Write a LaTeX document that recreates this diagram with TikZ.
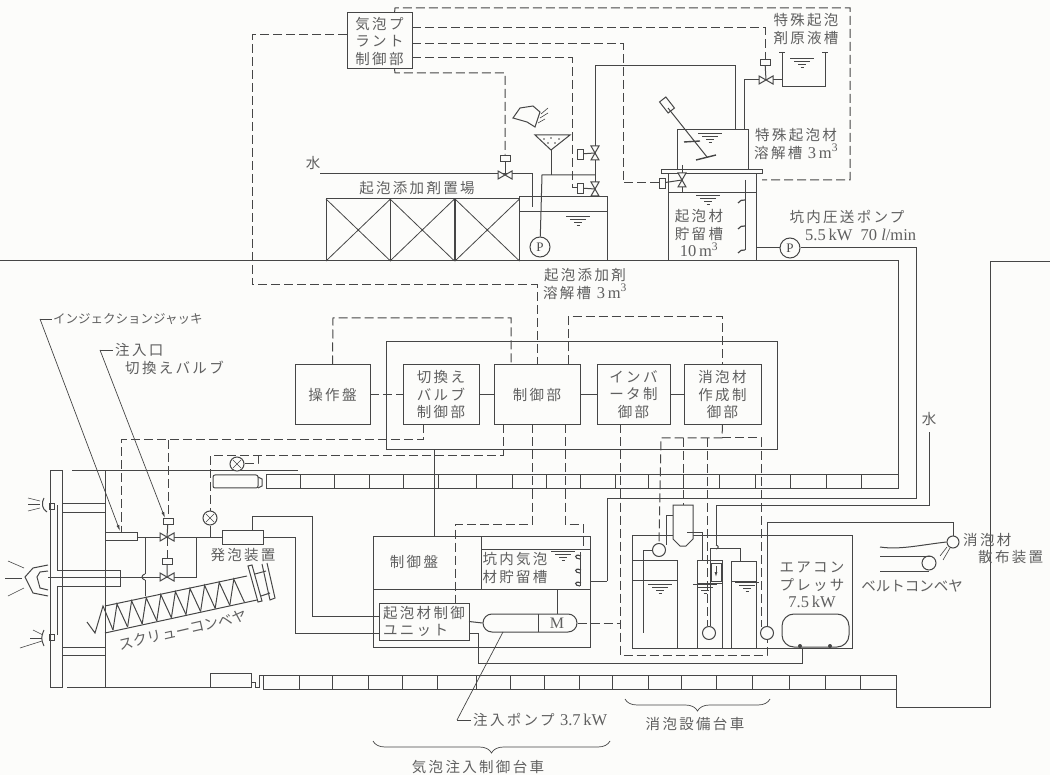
\documentclass[tikz,border=0pt]{standalone}
\usepackage{fontspec}
\setmainfont{Liberation Serif}
\newfontfamily\jpfont[LetterSpace=16]{Noto Sans CJK JP}
\newfontfamily\jpsmall{Noto Sans CJK JP}
\usetikzlibrary{positioning, arrows.meta, calc, decorations.pathreplacing}
\definecolor{paper}{RGB}{252,252,250}
\definecolor{ink}{RGB}{70,70,70}
\definecolor{inkgray}{RGB}{95,95,95}
\newcommand{\lat}[1]{{\rmfamily\fontsize{16.5}{17.5}\selectfont #1}}
\tikzset{
  lbl/.style={font=\jpfont\fontsize{14.5}{17.5}\selectfont, text=inkgray, align=center, inner sep=0pt},
  ctrlbox/.style={rectangle, draw=ink, line width=1pt, minimum height=60pt, outer sep=0pt, lbl},
  pipe/.style={draw=ink, line width=1pt},
  sig/.style={draw=ink, line width=1pt, dash pattern=on 9pt off 4pt},
  lead/.style={draw=ink, line width=.7pt, -{Latex[length=6pt,width=3pt]}},
  act/.style={rectangle, draw=ink, line width=.8pt, fill=paper, minimum width=10pt, minimum height=6pt, inner sep=0pt},
  actv/.style={act, minimum width=6pt, minimum height=10pt},
  gauge/.style={circle, draw=ink, line width=1pt, fill=paper, minimum size=14pt, inner sep=0pt},
  pumpc/.style={gauge, minimum size=20pt, font=\fontsize{13}{13}\selectfont, text=ink},
  brc/.style={draw=ink, line width=.7pt, decorate, decoration={brace, amplitude=12pt}},
  valveh/.pic={\draw[pipe, fill=paper] (-7,-4) -- (7,4) -- (7,-4) -- (-7,4) -- cycle;},
  valvev/.pic={\draw[pipe, fill=paper] (-4,-7) -- (4,7) -- (-4,7) -- (4,-7) -- cycle;},
  wlev/.pic={\draw[ink, line width=.7pt] (-12,0) -- (12,0) (-8,3) -- (8,3) (-4,6) -- (4,6) (-1.5,9) -- (1.5,9);},
}

\begin{document}
\begin{tikzpicture}[x=1pt, y=-1pt]
  \fill[paper] (0,0) rectangle (1050,775);
  \useasboundingbox (0,0) rectangle (1050,775);

  % above ground
  \draw[pipe] (0,261) -- (898,261) -- (898,489);
  \draw[pipe] (1050,262) -- (990,262) -- (990,707) -- (896,707) -- (896,677);
  \foreach \rx in {326,390,455} {
    \draw[pipe] (\rx,199) rectangle ++(64.5,62);
    \draw[ink, line width=.8pt] (\rx,199) -- ++(64.5,62) (\rx,261) -- ++(64.5,-62);
  }
  \node[lbl] (rack) at (417,188) {起泡添加剤置場};
  \node[lbl] (water) at (313,163) {水};

  % dissolving tank and hopper
  \draw[pipe] (519,261) -- (519,197) -- (607,197) -- (607,261);
  \draw[pipe] (519,212) -- (607,212);
  \pic at (578,216) {wlev};
  \node[pumpc] (padd) at (540,247) {P};
  \draw[pipe] (535,135) -- (570,135) -- (551,150) -- cycle;
  \foreach \dx/\dy in {544/139,551/138,559/139,548/143,555/143} \fill[ink] (\dx,\dy) circle (.9pt);
  \draw[pipe] (551,150) -- (551,175);
  \draw[pipe] (513,118) -- (520,108) -- (533,106) -- (540,112) -- (535,127) -- (527,122) -- cycle;
  \draw[ink, line width=.6pt] (538,123) -- (545,119) (540,118) -- (548,113) (541,114) -- (548,108);
  \draw[pipe] (padd) -- (542,175) -- (595,175);
  \coordinate (vwat) at (505,175);
  \draw[pipe] (320,174) -- (532,174) -- (532,207);
  \pic at (vwat) {valveh};
  \node[act] (awat) at (505,158) {};
  \draw[pipe] (awat) -- (vwat);

  % pipe up to the special tank
  \coordinate (vup) at (595,153);
  \coordinate (vlow) at (595,189);
  \draw[pipe] (595,197) -- (595,66) -- (735,66) -- (735,130);
  \pic at (vup) {valvev};
  \pic at (vlow) {valvev};
  \node[actv] (aup) at (580,154) {};
  \node[actv] (alow) at (580,188) {};
  \draw[pipe] (aup) -- (vup) (alow) -- (vlow);

  % special foam tanks
  \node[lbl] (stocktxt) at (806,29) {特殊起泡\\剤原液槽};
  \draw[pipe] (782,52) -- (782,87) -- (825,87) -- (825,52);
  \draw[pipe] (779,53) -- (785,53) (822,53) -- (828,53);
  \pic at (802,58) {wlev};
  \coordinate (vstk) at (766,80);
  \draw[pipe] (782,80) -- (744,80) -- (744,130);
  \pic at (vstk) {valveh};
  \node[act] (astk) at (765,62) {};
  \draw[pipe] (astk) -- (vstk);
  \draw[pipe] (677,170) -- (677,130) -- (748,130) -- (748,170);
  \pic at (710,133) {wlev};
  \node[lbl, anchor=west] (dissolve) at (754,144) {特殊起泡材\\溶解槽 \lat{3\,m\textsuperscript{3}}};
  \draw[pipe, fill=paper, rotate around={-52:(667,105)}] (660,101) rectangle (674,109);
  \draw[pipe] (668,108) -- (707,157);
  \draw[pipe, line width=1.4pt] (684,142) -- (700,141) (696,160) -- (716,155);

  % storage tank
  \draw[pipe] (661,170) rectangle (762,174);
  \draw[pipe] (668,174) -- (668,261) (756,174) -- (756,261);
  \draw[pipe] (668,193) -- (756,193);
  \pic at (708,195) {wlev};
  \node[lbl] (store) at (699,233) {起泡材\\貯留槽\\\lat{10\,m\textsuperscript{3}}};
  \draw[ink, line width=.8pt] (745,180) -- (745,250);
  \foreach \sy in {200,226,250} \draw[ink, line width=1.2pt] (745,\sy) .. controls (742,\sy-1) and (740,\sy+1) .. (738,\sy+3);
  \coordinate (vsto) at (682,180);
  \draw[pipe] (682,165) -- (682,193);
  \pic at (vsto) {valvev};
  \node[actv] (asto) at (662,183) {};
  \draw[pipe] (asto) -- (vsto);
  \node[pumpc] (ppress) at (790,248) {P};
  \node[lbl] (presstxt) at (847,217) {坑内圧送ポンプ};
  \node[lbl, anchor=west, font=\fontsize{16.5}{16.5}\selectfont] (presstxt2) at (805,235) {5.5\,kW\ \ 70 \textit{l}/min};
  \node[lbl] (addtxt) at (585,284) {起泡添加剤\\溶解槽 \lat{3\,m\textsuperscript{3}}};

  % control boxes
  \node[rectangle, draw=ink, line width=1pt, minimum width=391pt, minimum height=108pt] (frame) at (581.5,396) {};
  \node[ctrlbox, minimum width=75pt] (opan) at (332.5,394.5) {操作盤};
  \node[ctrlbox, minimum width=76pt, right=33pt of opan] (swv) {切換え\\バルブ\\制御部};
  \node[ctrlbox, minimum width=86pt, right=15pt of swv] (ctl) {制御部};
  \node[ctrlbox, minimum width=73pt, right=17pt of ctl] (inv) {インバ\\ータ制\\御部};
  \node[ctrlbox, minimum width=77pt, right=14pt of inv] (foam) {消泡材\\作成制\\御部};
  \node[ctrlbox, minimum width=65pt, minimum height=56pt] (plant) at (379.5,41) {気泡プ\\ラント\\制御部};
  \draw[sig] (opan) -- (swv);
  \draw[pipe] (swv) -- (ctl);
  \draw[pipe] (ctl) -- (inv);
  \draw[pipe] (inv) -- (foam);
  \draw[sig] (opan.north) -- (333,318) -- (511,318) -- (511,364.5);
  \draw[sig] (568,364.5) -- (568,317) -- (722,317) -- (722,364.5);

  % plant signals
  \draw[sig] ([yshift=6pt]plant.west) -- (252,35) -- (252,285) -- (537,285) -- (ctl.north);
  \draw[sig] ([xshift=15pt]plant.north) -- (395,8) -- (850,8) -- (850,180) -- (762,180);
  \draw[sig] ([yshift=13pt]plant.east) -- (765,28) -- (astk.north);
  \draw[sig] ([yshift=-3pt]plant.east) -- (623,44) -- (623,183) -- (asto.west);
  \draw[sig] ([yshift=-17pt]plant.east) -- (572,58) -- (572,188) -- (alow.west);
  \draw[sig] ([xshift=15pt]plant.south) -- (395,73) -- (505,73) -- (awat.north);

  % segments of the tunnel
  \draw[pipe] (266,475) rectangle (898,489);
  \foreach \tx in {300,334,369,403,438,476,512,546,580,615,648,683,719,755,790,826,861} \draw[pipe] (\tx,475) -- (\tx,489);
  \draw[pipe, rounded corners=2pt] (213,475) rectangle (258,488);
  \draw[pipe] (258,477) -- (262,479) -- (262,486) -- (258,488);
  \draw[pipe] (210,673) rectangle (251,687);
  \draw[pipe] (263,675) rectangle (896,689);
  \foreach \bx in {299,332,368,402,437,476,510,544,579,612,648,681,716,752,789,825,860} \draw[pipe] (\bx,675) -- (\bx,689);
  \draw[pipe] (251,682) -- (255,682) -- (255,687) -- (259,687) -- (259,675) -- (263,675);

  % shield
  \draw[pipe] (50,687) -- (50,471) -- (62,471) -- (62,687) -- (50,687);
  \draw[pipe] (67,687) -- (210,687);
  \draw[pipe] (105,471) -- (105,687);
  \draw[pipe] (72,471) -- (298,471);
  \draw[pipe] (62,503) -- (105,503) (62,512) -- (105,512) (62,647) -- (105,647) (62,655) -- (105,655);
  \draw[pipe] (57,505) -- (57,570) -- (120,570) -- (120,586) -- (57,586) -- (57,635);
  \draw[pipe] (48,577) -- (120,577);
  \draw[pipe] (48,565) -- (33,568) -- (25,577) -- (33,593) -- (48,596);
  \draw[pipe] (48,571) -- (40,572) -- (37,577) -- (40,588) -- (48,590);
  \draw[pipe] (44,498) .. controls (41,503) and (42,509) .. (47,512);
  \draw[pipe] (49,503) rectangle (54,509);
  \draw[pipe] (49,634) rectangle (54,640);
  \draw[pipe] (44,630) .. controls (41,636) and (41,640) .. (44,646);
  \foreach \rya/\ryb/\ryc/\ryd in {28/498/40/501, 28/504/40/504, 28/511/40/508, 8/561/24/568, 5/578/22/578, 8/596/24/588, 33/630/43/635, 20/648/42/641, 30/638/42/638} \draw[ink, line width=.6pt] (\rya,\ryb) -- (\ryc,\ryd);

  % injection side
  \draw[pipe] (105,532) rectangle (137,540);
  \coordinate (vinj) at (167,537);
  \coordinate (vinl) at (167,577);
  \node[act] (ainj) at (168,521) {};
  \node[act] (ainl) at (167,561) {};
  \node[gauge] (gfoam) at (210,518) {};
  \node[gauge] (gjack) at (237,464) {};
  \foreach \g in {gfoam,gjack} {
    \draw[ink, line width=.6pt] ($(\g)+(-4,-4)$) -- ($(\g)+(4,4)$) ($(\g)+(-4,4)$) -- ($(\g)+(4,-4)$);
  }
  \node[rectangle, draw=ink, line width=1pt, minimum width=41pt, minimum height=14pt] (foamer) at (243,537) {};
  \node[lbl] (foamtxt) at (243,555) {発泡装置};
  \draw[pipe] (137,537) -- (foamer.west);
  \draw[pipe] (145,537) -- (145,574) (145,580) -- (145,596);
  \draw[pipe] (145,574) .. controls (141,575) and (141,579) .. (145,580);
  \draw[pipe] (120,577) -- (196,577) -- (196,537);
  \draw[pipe] (ainj) -- (vinj) (ainl) -- (vinl);
  \pic at (vinj) {valveh};
  \pic at (vinl) {valveh};
  \draw[sig] (vinj) -- (ainl);
  \draw[pipe] (gfoam) -- (210,537);

  % screw conveyor
  \draw[pipe] (105,606) -- (247,576);
  \draw[pipe] (105,633) -- (257,600);
  \draw[pipe] (248,566) -- (258,602) -- (262,601) -- (252,565) -- cycle;
  \draw[pipe] (267,563) -- (275,598) -- (270,600) -- (262,564);
  \draw[pipe] (255,574) -- (266,571) (261,596) -- (270,593);
  \draw[pipe] (87,622) -- (95,633) -- (103,606) -- (113,630);
  \foreach \zi in {0,...,8} {
    \draw[pipe] ({113+14.6*\zi},{630-3.1*\zi}) -- ({117+14.6*\zi},{604-3.1*\zi}) -- ({127.6+14.6*\zi},{627-3.1*\zi});
  }
  \node[lbl, rotate=13, font=\jpsmall\fontsize{14.5}{14.5}\selectfont] (screwtxt) at (183,630) {スクリューコンベヤ};

  % control lines to the left
  \draw[sig] ([xshift=-18pt]swv.south) -- (423,440) -- (121,440) -- (121,532);
  \draw[sig] (168,440) -- (ainj.north);
  \draw[sig] ([xshift=-34pt]ctl.south) -- (503,456) -- (210,456) -- (gfoam.north);
  \draw[sig] (gjack.east) -- (258,464) -- (258,456);

  % leaders
  \draw[ink, line width=.7pt] (40,319) -- (52,319);
  \draw[lead] (40,319) -- (120,531);
  \node[lbl, anchor=west, font=\jpsmall\fontsize{12.5}{12.5}\selectfont] (jacktxt) at (53,319) {インジェクションジャッキ};
  \draw[ink, line width=.7pt] (100,350) -- (113,350);
  \draw[lead] (100,350) -- (165,518);
  \node[lbl, anchor=west] (porttxt) at (115,350) {注入口};
  \node[lbl, anchor=west] (porttxt2) at (125,368) {切換えバルブ};

  % control cart
  \draw[pipe] (373,536) rectangle (590,647);
  \draw[pipe] (373,589) -- (590,589);
  \draw[pipe] (481,536) -- (481,589);
  \draw[pipe] (481,549) -- (590,549);
  \draw[pipe] (434,450) -- (434,536);
  \node[lbl] (paneltxt) at (414,562) {制御盤};
  \node[lbl] (mintxt) at (515,568) {坑内気泡\\材貯留槽};
  \pic at (563,551) {wlev};
  \draw[ink, line width=.8pt] (580,552) -- (580,586);
  \foreach \sy in {556,570,583} \draw[ink, line width=1.1pt] (581,\sy) .. controls (574,\sy-3) and (574,\sy+3) .. (580,\sy+3);
  \node[ctrlbox, minimum width=90pt, minimum height=37pt, align=left] (unit) at (424,621.5) {起泡材制御\\ユニット};
  \node[rectangle, draw=ink, line width=1pt, rounded corners=9pt, minimum width=94pt, minimum height=18pt, inner sep=0pt] (pump) at (530,623) {};
  \draw[pipe] (538,614) -- (538,632);
  \node[font=\fontsize{16}{16}\selectfont, text=inkgray, inner sep=0pt] (motor) at (557,623) {M};
  \draw[pipe] (557,589) -- (557,614);
  \draw[pipe] (unit.east) -- (pump.west);
  \draw[pipe] (469,633) -- (478,633) -- (478,663) -- (802,663) -- (802,648);
  \draw[pipe] (252,530) -- (252,516) -- (312,516) -- (312,616) -- (379,616);
  \draw[pipe] (foamer.east) -- (295,537) -- (295,633) -- (379,633);
  \draw[pipe] (607,581) -- (590,581);
  \draw[pipe] (ppress) -- (916,248) -- (916,498) -- (607,498) -- (607,581);
  \draw[pipe] (756,248) -- (ppress);

  % defoaming cart
  \draw[pipe] (632,535) rectangle (852,648);
  \draw[pipe] (632,560) -- (677,560) -- (677,648) (632,580) -- (677,580);
  \draw[pipe] (697,648) -- (697,560) -- (722,560) -- (722,648) (697,583) -- (722,583);
  \draw[pipe] (731,648) -- (731,561) -- (756,561) -- (756,648) (731,581) -- (756,581);
  \pic at (660,584) {wlev};
  \pic at (705,584) {wlev};
  \pic at (747,582) {wlev};
  \draw[pipe, fill=paper] (673,505) -- (693,505) -- (693,539) -- (686,546) -- (680,546) -- (673,539) -- cycle;
  \node[gauge, minimum size=13pt] (c1) at (659,550) {};
  \node[gauge, minimum size=13pt] (c2) at (709,633) {};
  \node[gauge, minimum size=13pt] (c3) at (767,633) {};
  \draw[pipe] (673,515) -- (666,515) -- (666,545);
  \draw[pipe] (c1) -- (643,550) -- (643,633);
  \draw[pipe] (687,532) -- (702,532) -- (702,560);
  \draw[pipe] (716,545) -- (716,505) -- (929,505) -- (929,432);
  \draw[pipe] (716,545) .. controls (719,546) and (719,548) .. (716,549);
  \draw[pipe] (710,626) -- (710,548) -- (740,548) -- (740,561);
  \draw[pipe, fill=paper] (711,563) rectangle (721,581);
  \draw[ink, line width=.8pt, -{Latex[length=5pt,width=3pt]}] (716,566) -- (716,577);
  \draw[sig] (foam.south) -- (722,438) -- (661,438) -- (c1.north);
  \draw[sig] (722,438) -- (761,438) -- (761,627);
  \draw[sig] (683,438) -- (683,505);
  \draw[sig] (707,438) -- (707,626);
  \draw[sig] ([xshift=-5pt]ctl.south) -- (532,524) -- (455,524) -- (455,603);
  \draw[sig] ([xshift=28pt]ctl.south) -- (565,524) -- (583,524) -- (583,549);
  \draw[sig] ([xshift=-13.5pt]inv.south) -- (620,655) -- (767,655) -- (c3.south);
  \draw[sig] (pump.east) -- (620,623);
  \draw[pipe] (c3.north) -- (767,522) -- (953,522) -- (953,536);

  % compressor and belt
  \node[lbl] (comptxt) at (812,585) {エアコン\\プレッサ\\\lat{7.5\,kW}};
  \draw[pipe, rounded corners=12pt] (782,614) rectangle (849,647);
  \fill[ink] (800,646) circle (2pt) (830,646) circle (2pt);
  \node[gauge, minimum size=12pt] (cbelt) at (953,542) {};
  \node[gauge] (rbelt) at (929,563) {};
  \draw[pipe] (880,556) -- (930,556) (880,571) -- (929,571);
  \draw[pipe] (880,547) .. controls (900,550) and (920,545) .. (cbelt.west);
  \draw[ink, line width=.6pt] (940,556) -- (947,547) (943,560) -- (950,548);
  \node[lbl, font=\jpsmall\fontsize{14.5}{14.5}\selectfont] (belttxt) at (912,586) {ベルトコンベヤ};
  \node[lbl, anchor=west] (spray) at (963,540) {消泡材};
  \node[lbl, anchor=west] (spray2) at (978,557) {散布装置};
  \node[lbl] (watr) at (929,419) {水};

  % carts
  \draw[draw=ink, line width=.7pt] (457,720) -- (503,632);
  \draw[ink, line width=.7pt] (457,720) -- (471,720);
  \node[lbl, anchor=west] (pumptxt) at (473,720) {注入ポンプ \lat{3.7\,kW}};
  \draw[brc] (610,741) -- (373,741);
  \node[lbl] (cart1) at (478,767) {気泡注入制御台車};
  \draw[brc] (770,699) -- (625,699);
  \node[lbl] (cart2) at (695,724) {消泡設備台車};
\end{tikzpicture}
\end{document}
